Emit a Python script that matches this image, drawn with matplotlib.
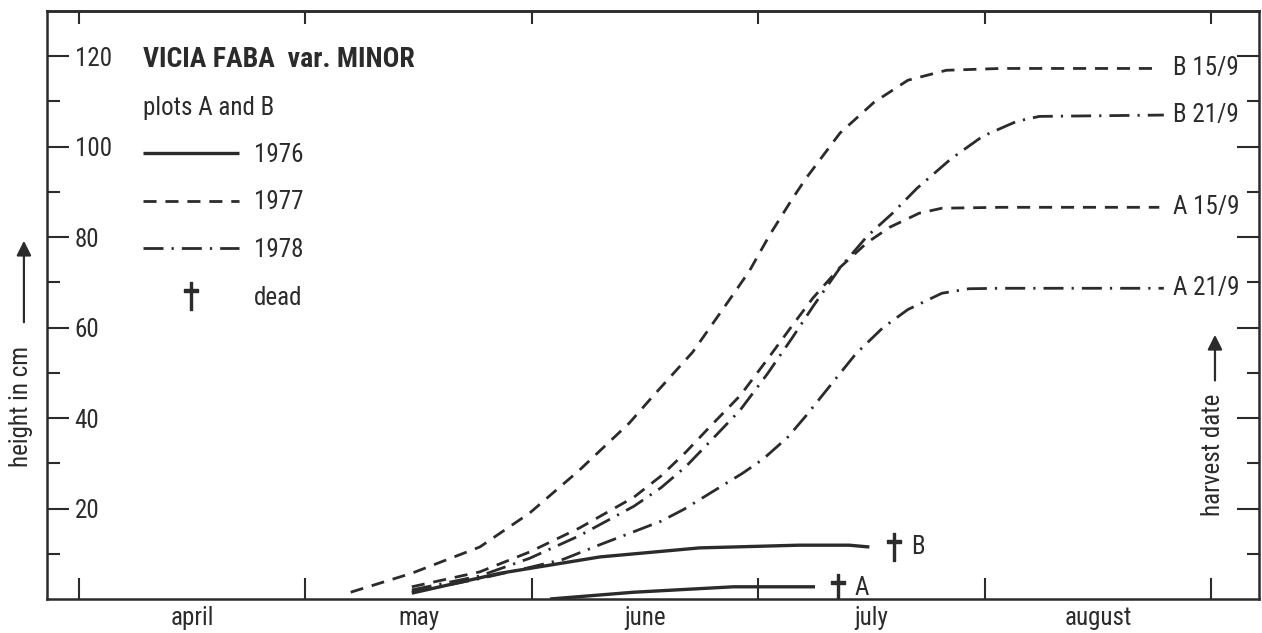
import matplotlib.pyplot as plt
from matplotlib import font_manager

# the original lettering is a condensed DIN-like face, use a narrow one if installed
names = {f.name for f in font_manager.fontManager.ttflist}
narrow = ['Liberation Sans Narrow', 'Roboto Condensed', 'Noto Sans Condensed',
          'DejaVu Sans Condensed', 'Open Sans Condensed', 'Arial Narrow']
face = next((n for n in narrow if n in names), None)
stretch = 'normal'
if face is None:
    cond = [f.name for f in font_manager.fontManager.ttflist
            if f.stretch in ('condensed', 'semi-condensed', 'extra-condensed')
            and 'Mono' not in f.name and 'Serif' not in f.name]
    if cond:
        face, stretch = sorted(cond)[0], 'condensed'
    else:
        face = 'Roboto' if 'Roboto' in names else 'DejaVu Sans'
plt.rcParams['font.family'] = [face, 'DejaVu Sans']
plt.rcParams['font.stretch'] = stretch

# x = months counted from 1 april (0 = 1 april, 1 = 1 may, ...)
months = ['april', 'may', 'june', 'july', 'august']

# 1977, plot B (harvest 15/9)
b77_x = [1.20, 1.47, 1.77, 1.99, 2.21, 2.43, 2.53, 2.71, 2.87, 2.96, 3.05, 3.15, 3.21, 3.36,
         3.51, 3.66, 3.83, 4.07, 4.77]
b77_y = [1.5, 5.7, 11.5, 19.0, 28.5, 38.9, 44.6, 54.6, 66.0, 72.5, 80.5, 88.5, 93.0, 103.0,
         109.8, 114.7, 116.9, 117.3, 117.3]

# 1977, plot A (harvest 15/9)
a77_x = [1.47, 1.77, 1.99, 2.21, 2.45, 2.57, 2.68, 2.79, 2.92, 3.04, 3.15, 3.24, 3.36, 3.48,
         3.58, 3.71, 3.81, 4.07, 4.77]
a77_y = [2.7, 6.0, 10.4, 15.7, 22.5, 27.2, 32.5, 38.3, 45.0, 53.0, 60.5, 66.5, 73.3, 78.8,
         82.2, 85.3, 86.4, 86.6, 86.6]

# 1978, plot B (harvest 21/9)
b78_x = [1.47, 1.77, 1.99, 2.21, 2.45, 2.57, 2.68, 2.79, 2.92, 3.04, 3.15, 3.24, 3.36, 3.48,
         3.59, 3.70, 3.85, 3.99, 4.14, 4.24, 4.79]
b78_y = [2.0, 5.1, 9.0, 14.0, 20.5, 24.6, 29.3, 35.0, 41.8, 49.8, 57.8, 64.6, 73.2, 80.2,
         85.2, 90.8, 97.3, 102.3, 105.6, 106.7, 107.0]

# 1978, plot A (harvest 21/9)
a78_x = [1.47, 1.77, 2.00, 2.14, 2.30, 2.57, 2.67, 2.93, 3.02, 3.13, 3.21, 3.33, 3.43, 3.55,
         3.66, 3.81, 3.93, 4.07, 4.79]
a78_y = [1.5, 4.5, 7.1, 8.8, 12.0, 17.2, 19.8, 27.8, 30.9, 35.8, 40.5, 48.0, 54.2, 60.0,
         64.0, 67.6, 68.6, 68.7, 68.7]

# 1976, both plots died
b76_x = [1.47, 1.86, 2.30, 2.74, 3.18, 3.40, 3.49]
b76_y = [1.3, 5.7, 9.3, 11.3, 11.9, 11.9, 11.5]
a76_x = [2.08, 2.45, 2.89, 3.25]
a76_y = [0.0, 1.5, 2.7, 2.7]

dead_x = [3.35, 3.60]
dead_y = [2.4, 11.5]
dead_plot = ['A', 'B']

harvest_labels = ['B 15/9', 'B 21/9', 'A 15/9', 'A 21/9']
harvest_y = [b77_y[-1], b78_y[-1], a77_y[-1], a78_y[-1]]

ink = '#2b2b2b'
fs = 18
dash = (4.7, 3.2)
dashdot = (7.2, 2.9, 0.8, 2.9)

fig, ax = plt.subplots(figsize=(12.62, 6.33), dpi=100)
fig.subplots_adjust(left=0.0372, right=0.9976, bottom=0.0537, top=0.9826)

l76, = ax.plot(b76_x, b76_y, color=ink, lw=2.4, solid_capstyle='butt')
ax.plot(a76_x, a76_y, color=ink, lw=2.4, solid_capstyle='butt')
l77, = ax.plot(b77_x, b77_y, color=ink, lw=2.0, dashes=dash)
ax.plot(a77_x, a77_y, color=ink, lw=2.0, dashes=dash)
l78, = ax.plot(b78_x, b78_y, color=ink, lw=2.0, dashes=dashdot)
ax.plot(a78_x, a78_y, color=ink, lw=2.0, dashes=dashdot)

dead, = ax.plot(dead_x, dead_y, ls='none', marker='$\u2020$', markersize=20, color=ink)
for x, y, p in zip(dead_x, dead_y, dead_plot):
    ax.annotate(p, (x, y), xytext=(12, 0), textcoords='offset points',
                va='center', ha='left', fontsize=fs, color=ink)

for lab, y in zip(harvest_labels, harvest_y):
    ax.text(4.83, y, lab, va='center', ha='left', fontsize=fs, color=ink)

ax.set_xlim(-0.141, 5.21)
ax.set_ylim(0, 130)

for s in ax.spines.values():
    s.set_linewidth(1.8)
    s.set_color(ink)

# month boundaries as ticks, month names in between
ax.set_xticks(range(6))
ax.set_xticks([i + 0.5 for i in range(len(months))], minor=True)
ax.set_xticklabels(months, minor=True)
ax.tick_params(axis='x', which='major', direction='in', length=15, width=1.5,
               color=ink, labelbottom=False)
ax.tick_params(axis='x', which='minor', length=0, pad=5, labelsize=fs, labelcolor=ink)

top = ax.secondary_xaxis('top')
top.set_xticks(range(6))
top.tick_params(direction='in', length=9.5, width=1.5, color=ink, labeltop=False)
top.spines['top'].set_linewidth(1.8)
top.spines['top'].set_color(ink)

ax.set_yticks(range(20, 121, 20))
ax.set_yticks(range(10, 111, 20), minor=True)
ax.tick_params(axis='y', which='major', direction='in', length=16, width=1.5,
               color=ink, right=True, pad=-20, labelsize=fs, labelcolor=ink)
ax.tick_params(axis='y', which='minor', direction='in', length=9, width=1.5,
               color=ink, right=True)
plt.setp(ax.get_yticklabels(), ha='left')

ax.set_ylabel('height in cm', fontsize=fs, color=ink)
ax.yaxis.set_label_coords(-0.0116, 0.327)
ax.annotate('', xy=(-0.019, 0.614), xytext=(-0.019, 0.466), xycoords='axes fraction',
            arrowprops=dict(arrowstyle='-|>', color=ink, lw=1.6, mutation_scale=22),
            annotation_clip=False)

ax.text(0.962, 0.245, 'harvest date', rotation=90, ha='center', va='center',
        fontsize=fs, color=ink, transform=ax.transAxes)
ax.annotate('', xy=(0.9637, 0.454), xytext=(0.9637, 0.367), xycoords='axes fraction',
            arrowprops=dict(arrowstyle='-|>', color=ink, lw=1.6, mutation_scale=22))

ax.text(0.079, 0.918, 'VICIA FABA  var. MINOR', transform=ax.transAxes,
        fontsize=20, fontweight='bold', va='center', color=ink)
ax.text(0.079, 0.835, 'plots A and B', transform=ax.transAxes,
        fontsize=fs, va='center', color=ink)

ax.legend([l76, l77, l78, dead], ['1976', '1977', '1978', 'dead'],
          loc='upper left', bbox_to_anchor=(0.079, 0.776), frameon=False,
          borderpad=0, borderaxespad=0, handlelength=3.85, handletextpad=0.6,
          labelspacing=0.95, fontsize=fs, labelcolor=ink)

plt.savefig('out.png', dpi=100)
